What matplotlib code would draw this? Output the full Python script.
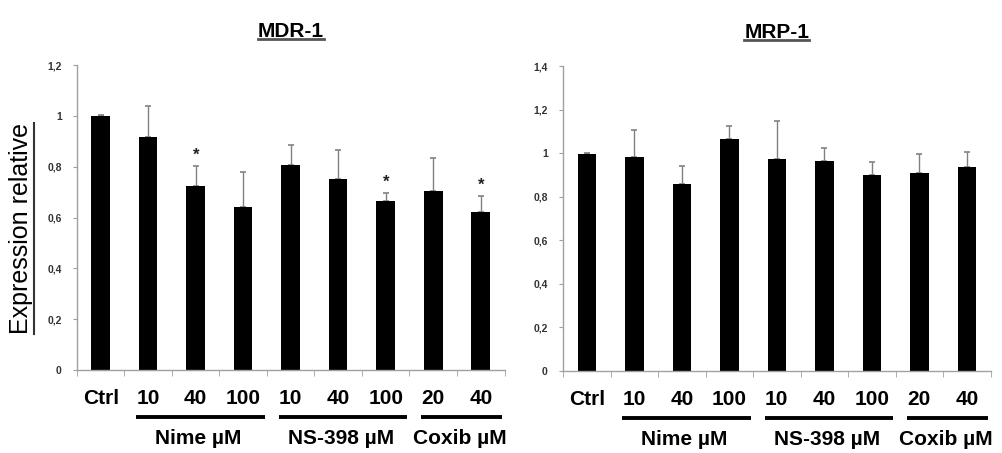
import matplotlib
matplotlib.use("Agg")
import matplotlib.pyplot as plt
from matplotlib.lines import Line2D
import numpy as np

plt.rcParams['font.family'] = ['Liberation Sans', 'DejaVu Sans']

categories = ["Ctrl", "10", "40", "100", "10", "40", "100", "20", "40"]
groups = ["Nime µM", "NS-398 µM", "Coxib µM"]
group_spans = [(1, 3), (4, 6), (7, 8)]

mdr_values = [1.00, 0.918, 0.724, 0.640, 0.807, 0.751, 0.663, 0.706, 0.623]
mdr_errors = [0.003, 0.120, 0.079, 0.140, 0.079, 0.115, 0.033, 0.129, 0.062]
mdr_signif = [False, False, True, False, False, False, True, False, True]

mrp_values = [0.998, 0.983, 0.857, 1.066, 0.974, 0.962, 0.901, 0.907, 0.938]
mrp_errors = [0.003, 0.123, 0.084, 0.060, 0.172, 0.060, 0.058, 0.089, 0.066]
mrp_signif = [False] * 9

mdr_yticks = [0, 0.2, 0.4, 0.6, 0.8, 1.0, 1.2]
mdr_yticklabels = ["0", "0,2", "0,4", "0,6", "0,8", "1", "1,2"]
mrp_yticks = [0, 0.2, 0.4, 0.6, 0.8, 1.0, 1.2, 1.4]
mrp_yticklabels = ["0", "0,2", "0,4", "0,6", "0,8", "1", "1,2", "1,4"]

fig = plt.figure(figsize=(10.02, 4.53), dpi=100)
ax1 = fig.add_axes([0.0768, 0.1832, 0.4267, 0.6733])
ax2 = fig.add_axes([0.5619, 0.1810, 0.4267, 0.6733])

axis_gray = "#a0a0a0"
titles = ["MDR-1", "MRP-1"]


def draw(ax, values, errors, signif, yticks, yticklabels, ymax, title):
    x = np.arange(len(values))
    ax.bar(x, values, width=0.39, color="black", zorder=2)
    ax.errorbar(x, values, yerr=[np.zeros(len(values)), errors], fmt="none",
                ecolor="#808080", elinewidth=1.0, capsize=2.5, capthick=1.2, zorder=1)
    for xi, v, e, s in zip(x, values, errors, signif):
        if s:
            ax.text(xi, v + e + 0.012, "*", ha="center", va="bottom",
                    fontsize=12, fontweight="bold", color="#222222")
    ax.set_xlim(-0.5, len(values) - 0.5)
    ax.set_ylim(0, ymax)
    for sp in ["top", "right"]:
        ax.spines[sp].set_visible(False)
    for sp in ["left", "bottom"]:
        ax.spines[sp].set_color(axis_gray)
        ax.spines[sp].set_linewidth(1.0)
    ax.set_yticks(yticks)
    ax.set_yticklabels(yticklabels, fontsize=7.5, fontweight="bold", color="#333333")
    ax.tick_params(axis="y", length=3, color=axis_gray, pad=8)
    ax.set_xticks(x)
    ax.set_xticklabels(categories, fontsize=15, fontweight="bold")
    ax.tick_params(axis="x", length=0, pad=14)
    ax.set_xticks(np.arange(len(values) + 1) - 0.5, minor=True)
    ax.tick_params(axis="x", which="minor", length=4, color=axis_gray)
    trans = ax.get_xaxis_transform()
    for name, (a, b) in zip(groups, group_spans):
        ax.add_line(Line2D([a - 0.25, b + 0.45], [-0.154, -0.154], transform=trans,
                           color="black", linewidth=2.8, clip_on=False,
                           solid_capstyle="butt"))
        ax.text((a + b) / 2 + 0.05, -0.223, name, transform=trans, ha="center",
                va="center", fontsize=15, fontweight="bold")
    t = ax.set_title(title, fontsize=15, fontweight="bold", pad=20)
    return t


t1 = draw(ax1, mdr_values, mdr_errors, mdr_signif, mdr_yticks, mdr_yticklabels, 1.2, titles[0])
t2 = draw(ax2, mrp_values, mrp_errors, mrp_signif, mrp_yticks, mrp_yticklabels, 1.4, titles[1])
yl = fig.text(0.021, 0.495, "Expression relative", rotation=90, ha="center", va="center",
              fontsize=18)

fig.canvas.draw()
r = fig.canvas.get_renderer()
inv = fig.transFigure.inverted()
for t in (t1, t2):
    bb = t.get_window_extent(r)
    (x0, y0), (x1, y1) = inv.transform([(bb.x0, bb.y0), (bb.x1, bb.y1)])
    fig.add_artist(Line2D([x0, x1], [y0 + 0.006, y0 + 0.006], transform=fig.transFigure,
                          color="#555555", linewidth=2.0))
bb = yl.get_window_extent(r)
(x0, y0), (x1, y1) = inv.transform([(bb.x0, bb.y0), (bb.x1, bb.y1)])
fig.add_artist(Line2D([x1 + 0.001, x1 + 0.001], [y0, y1], transform=fig.transFigure,
                      color="#333333", linewidth=1.5))

fig.savefig("out.png", dpi=100)
